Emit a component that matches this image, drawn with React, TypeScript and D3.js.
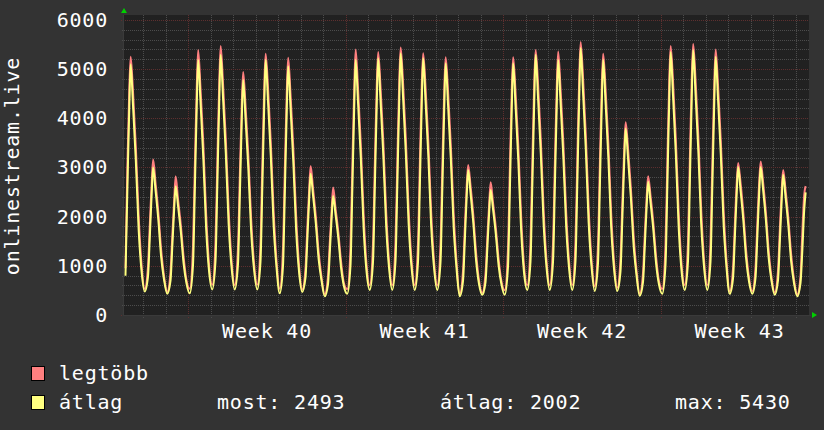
import React from "react";
import * as d3 from "d3";

// hours of day at which each daily sample below was read
const HOURS = [1.5, 5, 7, 9, 10.5, 13, 16, 19, 22];

// átlag (average) per day, one row per day starting Thursday before Week 40
const avgByDay: (number | null)[][] = [
  [null, 800, 2543, 4170, 5100, 4263, 3147, 1752, 915],
  [480, 782, 1614, 2496, 3000, 2546, 1942, 1186, 732],
  [430, 693, 1416, 2182, 2620, 2226, 1700, 1043, 649],
  [440, 1010, 2578, 4240, 5190, 4335, 3195, 1770, 915],
  [520, 1092, 2667, 4336, 5290, 4431, 3287, 1856, 997],
  [520, 1031, 2437, 3928, 4780, 4013, 2991, 1713, 946],
  [520, 1080, 2622, 4256, 5190, 4349, 3229, 1828, 987],
  [440, 994, 2519, 4136, 5060, 4228, 3120, 1734, 902],
  [470, 758, 1550, 2390, 2870, 2438, 1862, 1142, 710],
  [380, 625, 1298, 2012, 2420, 2053, 1563, 951, 584],
  [430, 1001, 2572, 4238, 5190, 4333, 3191, 1763, 906],
  [510, 1075, 2630, 4278, 5220, 4372, 3242, 1829, 981],
  [510, 1087, 2675, 4358, 5320, 4454, 3300, 1857, 991],
  [510, 1075, 2630, 4278, 5220, 4372, 3242, 1829, 981],
  [510, 1063, 2585, 4198, 5120, 4290, 3184, 1801, 971],
  [380, 688, 1537, 2436, 2950, 2487, 1871, 1100, 637],
  [410, 666, 1369, 2114, 2540, 2157, 1645, 1006, 623],
  [410, 975, 2530, 4178, 5120, 4272, 3142, 1729, 881],
  [510, 1084, 2661, 4334, 5290, 4430, 3282, 1848, 988],
  [510, 1072, 2616, 4254, 5190, 4348, 3224, 1820, 978],
  [510, 1100, 2724, 4446, 5430, 4544, 3364, 1888, 1002],
  [490, 1054, 2605, 4250, 5190, 4344, 3216, 1806, 960],
  [490, 886, 1975, 3130, 3790, 3196, 2404, 1414, 820],
  [390, 668, 1434, 2246, 2710, 2292, 1736, 1040, 622],
  [430, 1020, 2644, 4366, 5350, 4464, 3284, 1808, 922],
  [510, 1096, 2706, 4414, 5390, 4512, 3340, 1876, 998],
  [510, 1079, 2643, 4302, 5250, 4397, 3259, 1837, 984],
  [430, 740, 1591, 2494, 3010, 2546, 1926, 1152, 688],
  [430, 752, 1610, 2510, 3010, 2570, 1950, 1170, 700],
  [410, 703, 1508, 2362, 2850, 2411, 1825, 1093, 654],
  [380, 650, 1330, 2150, 2493, null, null, null, null],
];

// legtöbb (maximum) per day
const maxByDay: (number | null)[][] = [
  [null, 950, 3008, 4542, 5250, 4542, 3426, 2031, 1055],
  [530, 984, 1866, 2698, 3160, 2698, 2093, 1337, 808],
  [474, 868, 1635, 2357, 2820, 2357, 1832, 1175, 715],
  [535, 1390, 3053, 4620, 5390, 4620, 3480, 2055, 1058],
  [615, 1474, 3144, 4718, 5470, 4718, 3573, 2142, 1140],
  [605, 1372, 2863, 4269, 4940, 4269, 3246, 1968, 1074],
  [613, 1454, 3089, 4630, 5310, 4630, 3509, 2108, 1127],
  [532, 1364, 2981, 4506, 5230, 4506, 3397, 2011, 1041],
  [518, 950, 1790, 2582, 3030, 2582, 2006, 1286, 782],
  [421, 788, 1502, 2175, 2590, 2175, 1686, 1074, 645],
  [525, 1382, 3048, 4619, 5400, 4619, 3476, 2048, 1049],
  [604, 1452, 3101, 4655, 5350, 4655, 3524, 2111, 1122],
  [606, 1472, 3156, 4743, 5440, 4743, 3588, 2145, 1135],
  [604, 1452, 3101, 4655, 5320, 4655, 3524, 2111, 1122],
  [602, 1432, 3046, 4567, 5240, 4567, 3460, 2077, 1109],
  [431, 894, 1794, 2642, 3050, 2642, 2025, 1254, 714],
  [453, 836, 1582, 2284, 2700, 2284, 1773, 1134, 687],
  [504, 1352, 3001, 4555, 5240, 4555, 3424, 2011, 1022],
  [606, 1466, 3139, 4716, 5390, 4716, 3569, 2135, 1131],
  [604, 1446, 3084, 4628, 5360, 4628, 3505, 2101, 1118],
  [608, 1494, 3216, 4840, 5550, 4840, 3659, 2183, 1150],
  [584, 1430, 3075, 4626, 5310, 4626, 3498, 2088, 1101],
  [556, 1150, 2305, 3394, 3920, 3394, 2602, 1612, 919],
  [436, 854, 1666, 2432, 2820, 2432, 1875, 1179, 692],
  [528, 1414, 3136, 4760, 5470, 4760, 3579, 2103, 1070],
  [608, 1486, 3194, 4804, 5510, 4804, 3633, 2169, 1144],
  [605, 1458, 3117, 4681, 5400, 4681, 3544, 2122, 1126],
  [482, 946, 1849, 2700, 3090, 2700, 2081, 1307, 765],
  [482, 960, 1870, 2720, 3120, 2720, 2100, 1320, 775],
  [459, 898, 1752, 2557, 2950, 2557, 1972, 1240, 727],
  [420, 780, 1700, 2450, 2620, null, null, null, null],
];

const weekLabels = ["Week 40", "Week 41", "Week 42", "Week 43"];
const weekStartDays = [3, 10, 17, 24];
const yTicks = [0, 1000, 2000, 3000, 4000, 5000, 6000];
const yMinorStep = 200;
const yTop = 6100;
const timeStart = 0.142;
const timeEnd = 30.586;
const seriesNames = ["legtöbb", "átlag"];
const statLabels = ["most", "átlag", "max"];
const statValues = [2493, 2002, 5430];

const W = 824;
const H = 430;
const PL = 124;
const PR = 809;
const PT = 15;
const PB = 315;
const FONT = "'DejaVu Sans Mono', monospace";
const MAXC = "#ff8080";
const AVGC = "#ffff80";
const MINORC = "#4c4c4c";
const MAJORC = "#5e2f2f";

type Pt = { t: number; v: number };

function toPoints(rows: (number | null)[][]): Pt[] {
  const out: Pt[] = [];
  rows.forEach((row, day) => {
    row.forEach((v, i) => {
      if (v !== null) out.push({ t: day + HOURS[i] / 24, v });
    });
  });
  return out;
}

export default function App() {
  const x = d3.scaleLinear().domain([timeStart, timeEnd]).range([PL, PR]);
  const y = d3.scaleLinear().domain([0, yTop]).range([PB, PT]);
  const line = d3
    .line<Pt>()
    .x((d) => x(d.t))
    .y((d) => y(d.v))
    .curve(d3.curveMonotoneX);

  const avgPts = toPoints(avgByDay);
  const maxPts = toPoints(maxByDay);

  const days = d3.range(1, 31).filter((d) => !weekStartDays.includes(d));
  const minorY = d3.range(0, yTop, yMinorStep).filter((v) => v % 1000 !== 0);

  const textStyle: React.CSSProperties = {
    fontFamily: FONT,
    fontSize: 20,
    letterSpacing: 0.8,
  };

  return (
    <svg
      width={W}
      height={H}
      style={{ position: "absolute", left: 0, top: 0, display: "block" }}
    >
      <rect x={0} y={0} width={W} height={H} fill="#333333" />
      <rect x={PL} y={PT} width={PR - PL} height={PB - PT} fill="#212121" />
      <defs>
        <clipPath id="plotclip">
          <rect x={PL} y={PT} width={PR - PL} height={PB - PT + 2} />
        </clipPath>
      </defs>

      {/* minor grid */}
      {days.map((d) => (
        <line
          key={"vd" + d}
          x1={Math.round(x(d)) + 0.5}
          x2={Math.round(x(d)) + 0.5}
          y1={PT}
          y2={PB + 3}
          stroke={MINORC}
          strokeDasharray="1,1"
        />
      ))}
      {minorY.map((v) => (
        <line
          key={"hm" + v}
          x1={PL - 2}
          x2={PR}
          y1={Math.round(y(v)) + 0.5}
          y2={Math.round(y(v)) + 0.5}
          stroke={MINORC}
          strokeDasharray="1,1"
        />
      ))}
      {/* major grid */}
      {weekStartDays.map((d) => (
        <line
          key={"vw" + d}
          x1={Math.round(x(d)) + 0.5}
          x2={Math.round(x(d)) + 0.5}
          y1={PT}
          y2={PB + 4}
          stroke={MAJORC}
          strokeDasharray="1,1"
        />
      ))}
      {yTicks.map((v) => (
        <line
          key={"hM" + v}
          x1={PL - 3}
          x2={PR}
          y1={Math.round(y(v)) + 0.5}
          y2={Math.round(y(v)) + 0.5}
          stroke={MAJORC}
          strokeDasharray="1,1"
        />
      ))}

      {/* axes */}
      <line x1={PL - 0.5} x2={PL - 0.5} y1={PT} y2={PB + 1} stroke="#3a3a3a" />
      <line x1={PL} x2={PR + 2} y1={PB + 0.5} y2={PB + 0.5} stroke="#3a3a3a" />
      <path d={`M${PL - 3},${PT - 2} L${PL + 3},${PT - 2} L${PL},${PT - 7} Z`} fill="#00d000" />
      <path d={`M${PR + 3},${PB - 3} L${PR + 3},${PB + 3} L${PR + 8},${PB} Z`} fill="#00d000" />

      {/* series */}
      <g clipPath="url(#plotclip)">
        <path d={line(maxPts) || ""} fill="none" stroke={MAXC} strokeWidth={2} strokeLinejoin="round" />
        <path d={line(avgPts) || ""} fill="none" stroke={AVGC} strokeWidth={2} strokeLinejoin="round" />
      </g>

      {/* y labels */}
      {yTicks.map((v) => (
        <text
          key={"yl" + v}
          x={108}
          y={y(v) + 7}
          textAnchor="end"
          fill="#ffffff"
          style={textStyle}
        >
          {d3.format("d")(v)}
        </text>
      ))}
      <text
        transform={`translate(19,${(PT + PB) / 2 + 1}) rotate(-90)`}
        textAnchor="middle"
        fill="#ffffff"
        style={textStyle}
      >
        onlinestream.live
      </text>

      {/* x labels */}
      {weekLabels.map((w, i) => (
        <text
          key={w}
          x={x(weekStartDays[i] + 3.5)}
          y={338}
          textAnchor="middle"
          fill="#ffffff"
          style={textStyle}
        >
          {w}
        </text>
      ))}

      {/* legend */}
      {seriesNames.map((n, i) => (
        <g key={n}>
          <rect
            x={31.5}
            y={366.5 + i * 29}
            width={13}
            height={14}
            fill={i === 0 ? MAXC : AVGC}
            stroke="#000000"
          />
          <text x={59} y={380 + i * 29} fill="#ffffff" style={textStyle}>
            {n}
          </text>
        </g>
      ))}
      {statLabels.map((s, i) => (
        <text
          key={s}
          x={[217, 440, 675][i]}
          y={409}
          fill="#ffffff"
          style={textStyle}
        >
          {`${s}: ${statValues[i]}`}
        </text>
      ))}
    </svg>
  );
}
